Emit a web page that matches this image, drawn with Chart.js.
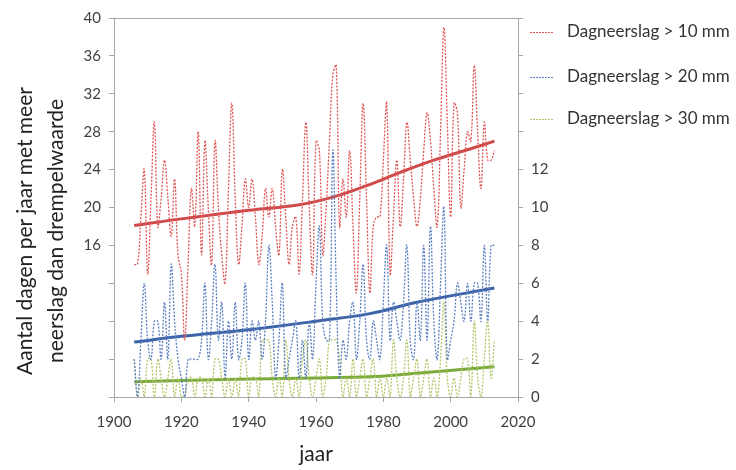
<!DOCTYPE html>
<html lang="nl">
<head>
<meta charset="UTF-8">
<title>Dagneerslag</title>
<script src="https://cdn.jsdelivr.net/npm/chart.js"></script>
<style>
    body { margin: 0; background: #fff; }
    .wrap { position: relative; width: 736px; height: 470px; font-family: Lato, sans-serif; }
    .legend { position: absolute; left: 530px; font-size: 17px; color: #333; }
    .legend span.s { display: inline-block; width: 24px; height: 1.5px; vertical-align: middle; margin-right: 13px; }
    .ytitle { position: absolute; left: 39px; top: 231px; width: 340px; transform: translate(-50%, -50%) rotate(-90deg);
        text-align: center; font-size: 21px; line-height: 31px; color: #222; white-space: nowrap; }
    .xtitle { position: absolute; left: 316px; top: 440px; transform: translateX(-50%); font-size: 21px; color: #222; }
</style>
</head>
<body>
<div class="wrap">
    <canvas id="c" width="736" height="470"></canvas>
    <div class="ytitle">Aantal dagen per jaar met meer<br>neerslag dan drempelwaarde</div>
    <div class="xtitle">jaar</div>
    <div class="legend" style="top:20px"><span class="s" style="background:repeating-linear-gradient(to right,#e05555 0 2px,transparent 2px 3px)"></span>Dagneerslag &gt; 10 mm</div>
    <div class="legend" style="top:65px"><span class="s" style="background:repeating-linear-gradient(to right,#5b7fc0 0 2px,transparent 2px 3px)"></span>Dagneerslag &gt; 20 mm</div>
    <div class="legend" style="top:107px"><span class="s" style="background:repeating-linear-gradient(to right,#b0c668 0 2px,transparent 2px 3px)"></span>Dagneerslag &gt; 30 mm</div>
</div>
<script>
// jaarlijkse aantallen, 1906 t/m 2013
const firstYear = 1906;
const over10 = [14, 14, 19, 24, 13, 21, 29, 18, 21, 25, 21, 17, 23, 15, 13, 6, 14, 22, 18, 28,
    15, 27, 20, 14, 27, 20, 15, 12, 22, 31, 21, 14, 18, 23, 20, 23, 19, 14, 17, 22,
    19, 22, 18, 15, 24, 19, 14, 18, 19, 13, 21, 29, 20, 13, 27, 26, 15, 20, 27, 34,
    35, 18, 23, 19, 26, 18, 11, 21, 31, 21, 11, 18, 19, 19, 25, 31, 13, 19, 25, 18,
    23, 29, 25, 21, 18, 21, 26, 30, 27, 22, 18, 28, 39, 29, 19, 31, 30, 20, 24, 28,
    27, 35, 28, 22, 29, 25, 25, 26];
const over20 = [2, 0, 3, 6, 3, 2, 4, 4, 2, 5, 2, 7, 4, 2, 1, 0, 2, 2, 2, 2,
    3, 6, 2, 4, 7, 3, 5, 1, 4, 2, 5, 2, 3, 6, 2, 4, 3, 4, 2, 4,
    8, 5, 1, 3, 6, 1, 2, 3, 4, 1, 3, 1, 4, 2, 6, 9, 4, 3, 3, 13,
    6, 1, 3, 2, 4, 5, 2, 4, 7, 3, 2, 4, 3, 2, 5, 8, 3, 5, 4, 3,
    5, 8, 3, 2, 5, 3, 8, 3, 9, 4, 2, 6, 10, 2, 3, 4, 6, 5, 4, 6,
    4, 6, 6, 4, 8, 4, 8, 8];
const over30 = [2, 0, 1, 0, 2, 2, 0, 2, 1, 0, 1, 2, 0, 1, 0, 0, 1, 1, 0, 1,
    1, 0, 1, 0, 2, 2, 1, 0, 1, 0, 1, 0, 2, 2, 0, 1, 1, 0, 3, 3,
    3, 1, 0, 1, 0, 3, 1, 0, 1, 0, 2, 3, 1, 0, 1, 2, 0, 1, 3, 3,
    3, 2, 0, 1, 0, 2, 0, 1, 2, 0, 1, 2, 0, 1, 0, 1, 0, 3, 1, 0,
    1, 3, 0, 1, 2, 0, 1, 2, 0, 1, 0, 2, 5, 1, 0, 1, 0, 1, 2, 2,
    0, 4, 1, 0, 2, 4, 1, 3];

const trendYears10 = [1906, 1920, 1940, 1955, 1965, 1975, 1985, 1995, 2005, 2013];
const trend10 = [18.1, 18.8, 19.7, 20.3, 21.1, 22.3, 23.7, 25.0, 26.1, 27.0];
const trendYears20 = [1906, 1920, 1940, 1960, 1976, 1990, 2013];
const trend20 = [2.9, 3.2, 3.55, 4.0, 4.4, 5.0, 5.75];
const trendYears30 = [1906, 1940, 1976, 1990, 2013];
const trend30 = [0.8, 0.95, 1.07, 1.25, 1.6];

const years = over10.map((_, i) => firstYear + i);
const pts = (xs, ys) => ys.map((v, i) => ({ x: xs[i], y: v }));

const font = 'Lato, sans-serif';
const tickColor = '#404040';
const axisColor = '#a6a6a6';

const topLine = {
    id: 'topLine',
    afterDraw(chart) {
        const { ctx, chartArea } = chart;
        ctx.save();
        ctx.strokeStyle = axisColor;
        ctx.lineWidth = 1;
        ctx.beginPath();
        ctx.moveTo(chartArea.left, chartArea.top + 0.5);
        ctx.lineTo(chartArea.right, chartArea.top + 0.5);
        ctx.stroke();
        ctx.restore();
    }
};

function dotted(label, data, color, axis) {
    return { label, data, yAxisID: axis, borderColor: color, borderWidth: 1.3,
        borderDash: [2, 1.5], pointRadius: 0, tension: 0.4, fill: false };
}
function trend(data, color, axis) {
    return { data, yAxisID: axis, borderColor: color, borderWidth: 3,
        pointRadius: 0, tension: 0.4, fill: false };
}

new Chart(document.getElementById('c'), {
    type: 'line',
    data: {
        datasets: [
            dotted('Dagneerslag > 10 mm', pts(years, over10), '#e05555', 'y'),
            dotted('Dagneerslag > 20 mm', pts(years, over20), '#5b7fc0', 'y2'),
            dotted('Dagneerslag > 30 mm', pts(years, over30), '#b0c668', 'y2'),
            trend(pts(trendYears10, trend10), '#cf4a4a', 'y'),
            trend(pts(trendYears20, trend20), '#3d64a8', 'y2'),
            trend(pts(trendYears30, trend30), '#7aaa3a', 'y2')
        ]
    },
    options: {
        responsive: false,
        animation: false,
        layout: { padding: { top: 18, right: 0, left: 0, bottom: 0 } },
        plugins: { legend: { display: false }, tooltip: { enabled: false } },
        scales: {
            x: {
                type: 'linear', min: 1900, max: 2020,
                ticks: { stepSize: 20, color: tickColor, font: { family: font, size: 15 },
                    callback: v => String(v), padding: 11 },
                grid: { drawOnChartArea: false, tickLength: 5, color: axisColor },
                border: { color: axisColor },
                afterFit: s => { s.height = 73; }
            },
            y: {
                position: 'left', min: 0, max: 40,
                ticks: { stepSize: 4, color: tickColor, font: { family: font, size: 15 },
                    callback: v => v >= 16 ? v : '', padding: 8 },
                grid: { drawOnChartArea: false, tickLength: 5, color: axisColor },
                border: { color: axisColor },
                afterFit: s => { s.width = 114; }
            },
            y2: {
                position: 'right', min: 0, max: 20,
                ticks: { stepSize: 2, color: tickColor, font: { family: font, size: 15 },
                    callback: v => v <= 12 ? v : '', padding: 8 },
                grid: { drawOnChartArea: false, tickLength: 5, color: axisColor },
                border: { color: axisColor },
                afterFit: s => { s.width = 218; }
            }
        }
    },
    plugins: [topLine]
});
</script>
</body>
</html>
